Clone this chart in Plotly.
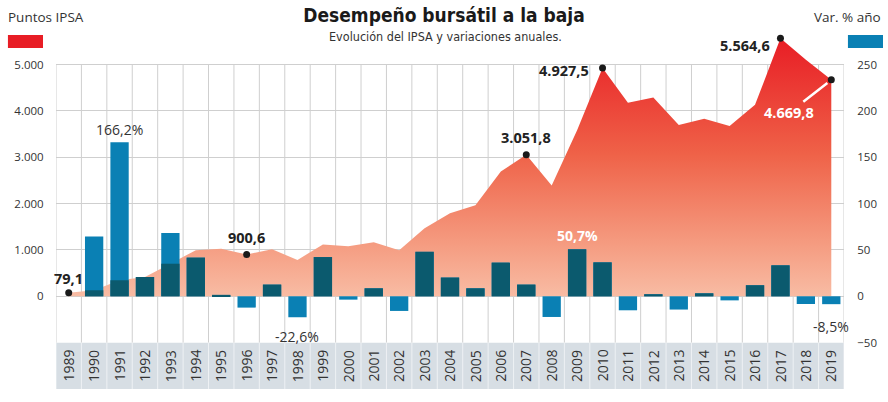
import plotly.graph_objects as go

# ------------------------
# Data
# ------------------------
years = list(range(1989, 2020))

# IPSA year-end points
ipsa = [79.1, 130, 346, 418, 703, 996, 1025, 900.6, 1014, 785,
        1117, 1078, 1166, 993, 1470, 1793, 1962, 2695, 3051.8, 2390,
        3581, 4927.5, 4178, 4290, 3695, 3830, 3675, 4130, 5564.6, 5105,
        4669.8]

# annual variation (%)
var_pct = [None, 64.6, 166.2, 20.8, 68.2, 41.7, 1.5, -12.2, 12.6, -22.6,
           42.3, -3.6, 8.6, -15.8, 48.0, 20.2, 8.6, 36.3, 12.6, -22.3,
           50.7, 36.6, -15.1, 2.2, -14.3, 3.2, -4.4, 11.9, 33.4, -8.3,
           -8.5]

# points that carry a label
point_years = [1989, 1996, 2007, 2010, 2017, 2019]

left_ticks = [0, 1000, 2000, 3000, 4000, 5000]
right_ticks = [-50, 0, 50, 100, 150, 200, 250]

RED = "#e81d25"
BLUE = "#0a80b4"
TEAL = "#0b5a6e"
TXT = "#333333"
FONT = "Open Sans"
COND = "DejaVu Sans Condensed"


def fmt(v, dec=1):
    s = f"{v:,.{dec}f}"
    return s.replace(",", "X").replace(".", ",").replace("X", ".")


# part of each positive bar covered by the area gets the dark colour
dark = []
for v, p in zip(var_pct, ipsa):
    if v is not None and v > 0:
        dark.append(min(v, p / 20))
    else:
        dark.append(None)

fig = go.Figure()

# ------------------------
# Area (left axis)
# ------------------------
fig.add_trace(go.Scatter(
    x=years, y=ipsa, mode="lines", fill="tozeroy",
    line=dict(width=0, color=RED),
    fillgradient=dict(
        type="vertical", start=0, stop=max(ipsa),
        colorscale=[[0, "#f8bca4"], [0.2, "#f59c81"],
                    [0.55, "#ef6248"], [1, RED]],
    ),
    hoverinfo="skip",
))

idx = [years.index(y) for y in point_years]
fig.add_trace(go.Scatter(
    x=point_years, y=[ipsa[i] for i in idx], mode="markers",
    marker=dict(color="#1a1a1a", size=7),
    hoverinfo="skip",
))

# ------------------------
# Bars (right axis)
# ------------------------
fig.add_trace(go.Bar(
    x=years, y=var_pct, yaxis="y2", width=0.72,
    marker=dict(color=BLUE, line=dict(width=0)),
))
fig.add_trace(go.Bar(
    x=years, y=dark, yaxis="y2", width=0.72,
    marker=dict(color=TEAL, line=dict(width=0)),
))

# ------------------------
# Background strip + vertical grid
# ------------------------
shapes = [dict(type="rect", xref="x", yref="y", x0=years[0] - 0.5,
               x1=years[-1] + 0.5, y0=-2000, y1=-1000,
               fillcolor="#d7dee4", line=dict(width=0), layer="below")]
for b in [y - 0.5 for y in years] + [years[-1] + 0.5]:
    shapes.append(dict(type="line", xref="x", yref="y", x0=b, x1=b,
                       y0=-1000, y1=5000,
                       line=dict(color="#cfcfcf", width=1), layer="below"))
    shapes.append(dict(type="line", xref="x", yref="y", x0=b, x1=b,
                       y0=-2000, y1=-1000,
                       line=dict(color="#eef1f4", width=1), layer="below"))

# legend swatches
shapes.append(dict(type="rect", xref="paper", yref="paper",
                   x0=-0.061, x1=-0.0165, y0=0.950, y1=0.986,
                   fillcolor=RED, line=dict(width=0)))
shapes.append(dict(type="rect", xref="paper", yref="paper",
                   x0=1.005, x1=1.0495, y0=0.950, y1=0.986,
                   fillcolor=BLUE, line=dict(width=0)))

ann = []
# year labels in the strip
for y in years:
    ann.append(dict(x=y, y=-1500, xref="x", yref="y", text=str(y),
                    textangle=-90, showarrow=False,
                    font=dict(family=FONT, size=14, color=TXT)))

# point labels
bold = dict(family=FONT, size=14.5, color="#222222")
p = dict(zip(years, ipsa))
ann.append(dict(x=1989, y=p[1989], text="<b>" + fmt(p[1989]) + "</b>",
                showarrow=False, yanchor="bottom", yshift=3, font=bold))
ann.append(dict(x=1996, y=p[1996], text="<b>" + fmt(p[1996]) + "</b>",
                showarrow=False, yanchor="bottom", yshift=6, font=bold))
ann.append(dict(x=2007, y=p[2007], text="<b>" + fmt(p[2007]) + "</b>",
                showarrow=False, yanchor="bottom", yshift=6, font=bold))
ann.append(dict(x=2010, y=p[2010], text="<b>" + fmt(p[2010]) + "</b>",
                showarrow=False, xanchor="right", xshift=-12, yshift=-3,
                font=bold))
ann.append(dict(x=2017, y=p[2017], text="<b>" + fmt(p[2017]) + "</b>",
                showarrow=False, xanchor="right", xshift=-8, yshift=-7,
                font=bold))
ann.append(dict(x=2019, y=p[2019], text="<b>" + fmt(p[2019]) + "</b>",
                showarrow=True, arrowhead=0, arrowwidth=2.5,
                arrowcolor="white", ax=-42, ay=33, standoff=5,
                font=dict(family=FONT, size=14.5, color="white")))

# bar labels
v = dict(zip(years, var_pct))
normal = dict(family=FONT, size=14, color=TXT)
ann.append(dict(x=1991, y=v[1991], yref="y2", text=fmt(v[1991]) + "%",
                showarrow=False, yanchor="bottom", yshift=1, font=normal))
ann.append(dict(x=1998, y=v[1998], yref="y2", text=fmt(v[1998]) + "%",
                showarrow=False, yanchor="top", yshift=-8, font=normal))
ann.append(dict(x=2009, y=v[2009], yref="y2",
                text="<b>" + fmt(v[2009]) + "%</b>",
                showarrow=False, yanchor="bottom", yshift=2,
                font=dict(family=FONT, size=14, color="white")))
ann.append(dict(x=2019, y=v[2019], yref="y2", text=fmt(v[2019]) + "%",
                showarrow=False, yanchor="top", yshift=-11, font=normal))

# headers
ann.append(dict(xref="paper", yref="paper", x=-0.0635, y=1.036,
                xanchor="left", yanchor="middle", text="Puntos IPSA",
                showarrow=False,
                font=dict(family=FONT, size=13.5, color=TXT)))
ann.append(dict(xref="paper", yref="paper", x=1.0495, y=1.036,
                xanchor="right", yanchor="middle", text="Var. % año",
                showarrow=False,
                font=dict(family=FONT, size=13.5, color=TXT)))
ann.append(dict(xref="paper", yref="paper", x=0.494, y=0.982,
                yanchor="middle",
                text="Evolución del IPSA y variaciones anuales.",
                showarrow=False,
                font=dict(family=COND, size=12.5, color=TXT)))

fig.update_layout(
    width=888, height=402,
    margin=dict(l=56, r=44, t=30, b=13),
    paper_bgcolor="white", plot_bgcolor="white",
    showlegend=False, barmode="overlay", separators=",.",
    title=dict(text="<b>Desempeño bursátil a la baja</b>",
               x=0.5, xanchor="center", y=0.962, yanchor="middle",
               font=dict(family=COND, size=19, color="#1a1a1a")),
    xaxis=dict(range=[years[0] - 0.5, years[-1] + 0.5], showgrid=False,
               showticklabels=False, zeroline=False, showline=False),
    yaxis=dict(range=[-2000, 5745], tickvals=left_ticks,
               tickformat=",d", showgrid=True, gridcolor="#cfcfcf",
               gridwidth=1, zeroline=False, showline=False,
               ticks="outside", ticklen=9, tickcolor="rgba(0,0,0,0)",
               tickfont=dict(family=FONT, size=11.5, color=TXT)),
    yaxis2=dict(range=[-100, 287.25], tickvals=right_ticks,
                overlaying="y", side="right", showgrid=False,
                zeroline=False, showline=False,
                ticks="outside", ticklen=10, tickcolor="rgba(0,0,0,0)",
                tickfont=dict(family=FONT, size=11.5, color=TXT)),
    shapes=shapes,
    annotations=ann,
)

# remove the page's default body margin so the 888x402 figure fills the window
fig.write_html("out.html", config={"displayModeBar": False},
               post_script="document.body.style.margin = '0px';")
